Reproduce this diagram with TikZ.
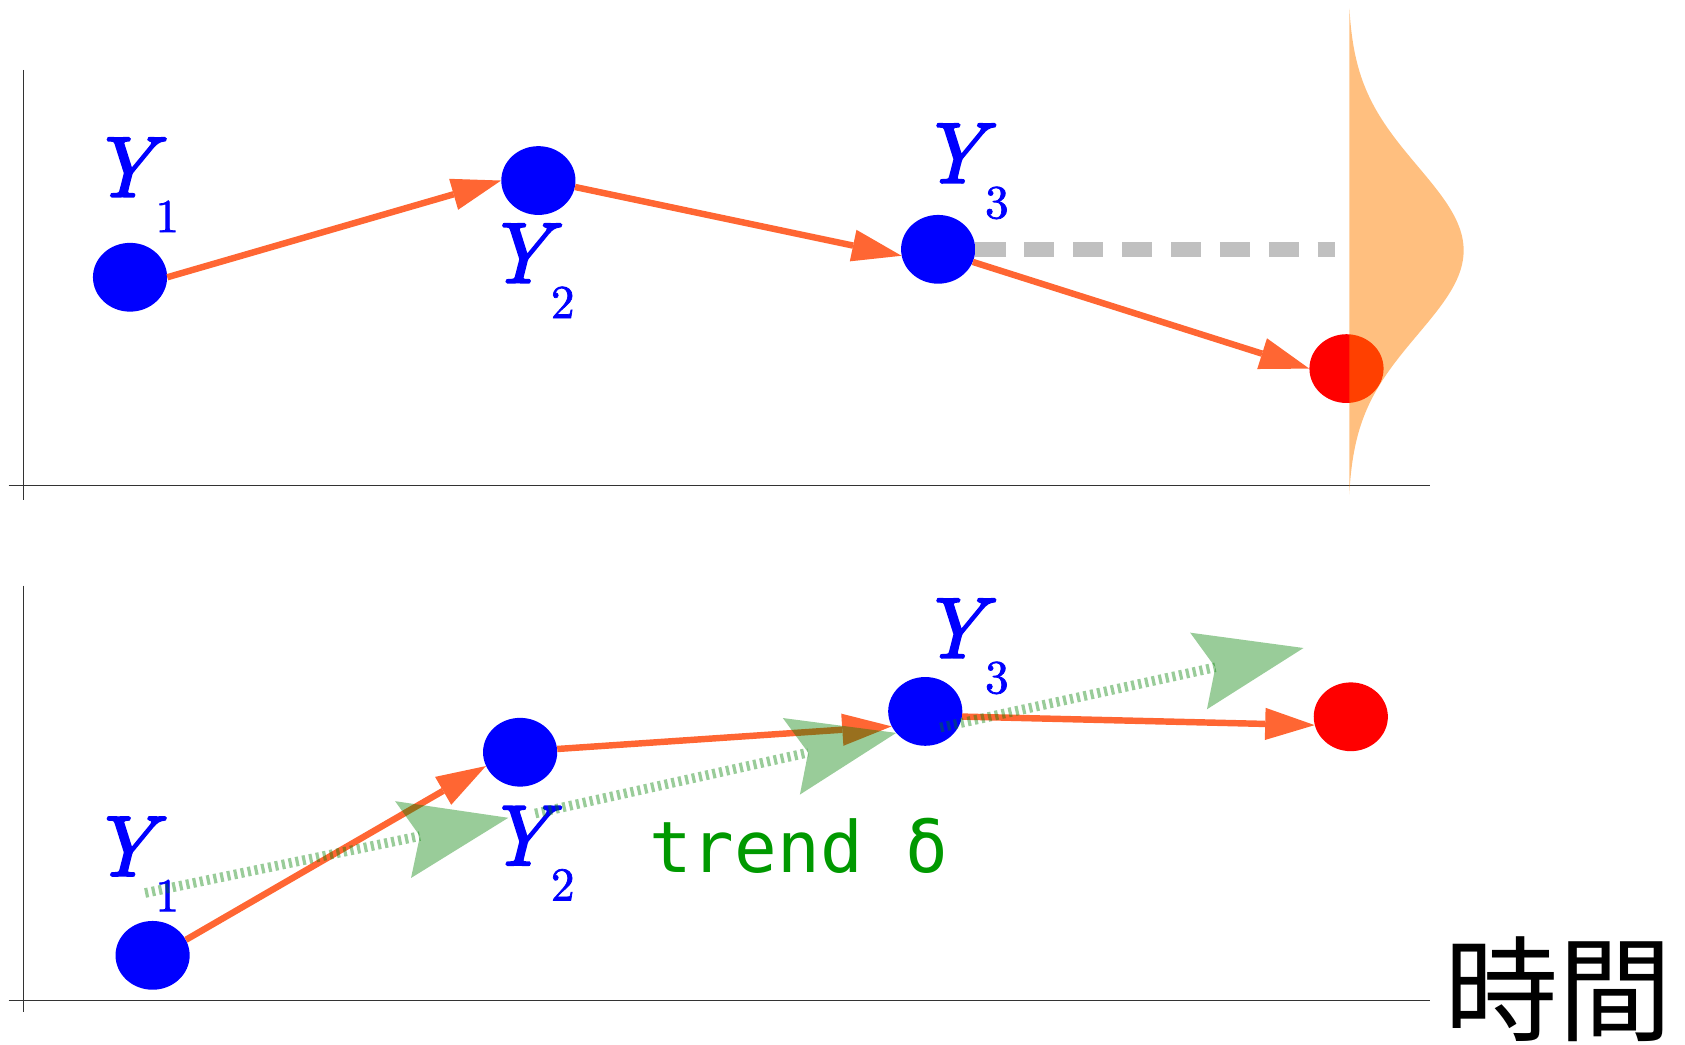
\documentclass[tikz,border=0pt]{standalone}
\usepackage{fontspec}
\newfontfamily\cjkfont{Noto Sans CJK JP}
\newfontfamily\trendfont{DejaVu Sans Mono}
\newfontfamily\Yitfont{lmroman10-italic.otf}[FakeBold=2.5]
\newfontfamily\Ysubfont{lmroman10-regular.otf}[FakeBold=1.5]
\usetikzlibrary{arrows.meta,shapes.geometric}
\definecolor{dotblue}{RGB}{0,0,255}
\definecolor{dotred}{RGB}{255,0,0}
\definecolor{arrorange}{RGB}{255,102,51}
\definecolor{dashgray}{RGB}{192,192,192}
\definecolor{gaussorange}{RGB}{255,128,0}
\definecolor{trendgreen}{RGB}{0,128,0}
\definecolor{textgreen}{RGB}{0,153,0}
\newcommand\Ylab[1]{{\Yitfont Y}\kern 1pt\raisebox{-33pt}{\Ysubfont\fontsize{44}{50}\selectfont #1}}
\begin{document}
\begin{tikzpicture}[x=1pt,y=-1pt,
  ball/.style={ellipse, minimum width=69pt, minimum height=64pt, inner sep=0pt, fill=#1},
  axisline/.style={draw=black!80, line width=1pt},
  flow/.style={draw=arrorange, line width=6pt, -{Triangle[length=46pt,width=30pt,line width=0pt]}},
  trend/.style={draw=trendgreen, opacity=0.4, line width=9pt, dash pattern=on 3pt off 3.5pt,
     -{Stealth[length=100pt,width=73pt,inset=16pt,line width=0pt]}},
  ylab/.style={text=dotblue, font=\fontsize{80}{96}\selectfont, inner sep=0pt, anchor=base west},
  graydash/.style={draw=dashgray, line width=14pt, dash pattern=on 28pt off 17.5pt}
]
\useasboundingbox (0,0) rectangle (1568,972);
% ---------- axes ----------
\coordinate (ta0) at (22,65);  \coordinate (ta1) at (22,465);
\coordinate (th0) at (8,452);  \coordinate (th1) at (1331,452);
\coordinate (ba0) at (22,545); \coordinate (ba1) at (22,942);
\coordinate (bh0) at (8,931);  \coordinate (bh1) at (1331,931);
\draw[axisline] (ta0) -- (ta1);
\draw[axisline] (th0) -- (th1);
\draw[axisline] (ba0) -- (ba1);
\draw[axisline] (bh0) -- (bh1);
% ---------- top panel ----------
\node[ball=dotblue] (t1) at (121,258) {};
\node[ball=dotblue] (t2) at (501,168) {};
\node[ball=dotblue] (t3) at (873,232) {};
\node[ball=dotred]  (t4) at (1253,343) {};
\coordinate (dashend) at (1242,232);
\draw[graydash] (t3.east) -- (dashend);
\draw[flow] (t1.east) -- (t2.west);
\draw[flow] (t2.350) -- (t3.190);
\draw[flow] (t3.340) -- (t4.west);
\fill[gaussorange, opacity=0.5] plot[domain=8:460, samples=150, smooth]
   ({1254+108*exp(-0.5*((\x-233)/78)^2)}, \x) -- cycle;
\node[ylab] (lt1) at (84,183) {\Ylab{1}};
\node[ylab] (lt2) at (452,263) {\Ylab{2}};
\node[ylab] (lt3) at (856,170) {\Ylab{3}};
% ---------- bottom panel ----------
\node[ball=dotblue] (b1) at (142,889) {};
\node[ball=dotblue] (b2) at (484,700) {};
\node[ball=dotblue] (b3) at (861,662) {};
\node[ball=dotred]  (b4) at (1257,667) {};
\draw[flow] (b1.25) -- (b2.202);
\draw[flow] (b2.5) -- (b3.204);
\draw[flow] (b3.352) -- (b4.193);
\node[ylab] (lb1) at (84,815) {\Ylab{1}};
\node[ylab] (lb2) at (452,805) {\Ylab{2}};
\node[ylab] (lb3) at (856,612) {\Ylab{3}};
\coordinate (g1s) at (135,831);  \coordinate (g1e) at (473,761);
\coordinate (g2s) at (498,757);  \coordinate (g2e) at (834,682);
\coordinate (g3s) at (875,677);  \coordinate (g3e) at (1213,603);
\draw[trend] (g1s) -- (g1e);
\draw[trend] (g2s) -- (g2e);
\draw[trend] (g3s) -- (g3e);
\node[text=textgreen, font=\trendfont\fontsize{66}{80}\selectfont, inner sep=0pt, anchor=base west]
   (trendlab) at (604,812) {trend δ};
\node[font=\cjkfont\fontsize{106}{120}\selectfont, inner sep=0pt, anchor=base west]
   (timelab) at (1344,961) {時間};
\end{tikzpicture}
\end{document}
